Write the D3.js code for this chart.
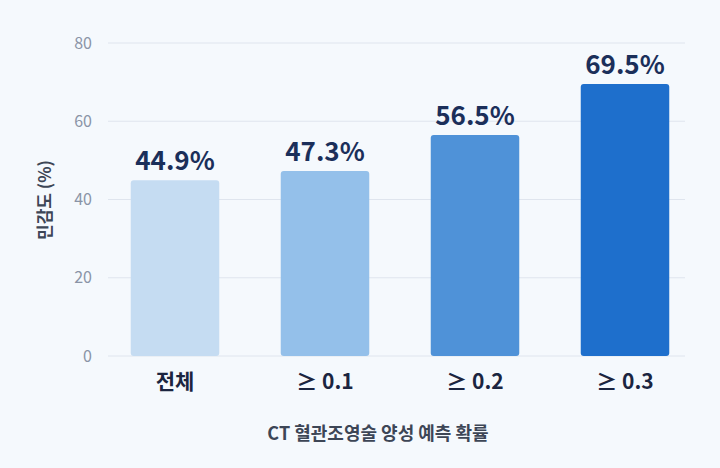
<!DOCTYPE html>
<html><head><meta charset="utf-8">
<script src="https://cdn.jsdelivr.net/npm/d3@7"></script>
<style>body{margin:0;background:#f5f9fd;font-family:"Noto Sans CJK KR","Noto Sans",sans-serif}</style>
</head><body><div class="container"></div>
<script>
const categories = ['전체', '≥ 0.1', '≥ 0.2', '≥ 0.3'];
const values = [44.9, 47.3, 56.5, 69.5];
const colors = ['#c5dcf2', '#94c0ea', '#4f92d8', '#1e6fcc'];
const yTicks = [0, 20, 40, 60, 80];

const width = 720, height = 468;
const svg = d3.select('.container').append('svg')
  .attr('width', width).attr('height', height);
svg.append('rect').attr('width', width).attr('height', height).attr('fill', '#f5f9fd');

const x = d3.scaleBand().domain(categories).range([100, 700])
  .paddingInner(0.41).paddingOuter(0.205);
const y = d3.scaleLinear().domain([0, 80]).range([356, 43]);

svg.append('g').selectAll('line').data(yTicks).join('line')
  .attr('x1', 108).attr('x2', 685)
  .attr('y1', d => y(d)).attr('y2', d => y(d))
  .attr('stroke', '#dfe5ee').attr('stroke-width', 1);

svg.append('g').selectAll('text').data(yTicks).join('text')
  .attr('x', 92).attr('y', d => y(d)).attr('dy', '0.35em')
  .attr('text-anchor', 'end').attr('fill', '#8a94a6').attr('font-size', 16)
  .text(d => d);

svg.append('g').selectAll('rect').data(values).join('rect')
  .attr('x', (d, i) => x(categories[i])).attr('width', x.bandwidth())
  .attr('y', d => y(d)).attr('height', d => y(0) - y(d))
  .attr('rx', 3).attr('fill', (d, i) => colors[i]);

svg.append('g').selectAll('text').data(values).join('text')
  .attr('x', (d, i) => x(categories[i]) + x.bandwidth() / 2)
  .attr('y', d => y(d) - 10)
  .attr('text-anchor', 'middle').attr('fill', '#1b2f5a')
  .attr('font-size', 26).attr('font-weight', 700)
  .text(d => d.toFixed(1) + '%');

svg.append('g').selectAll('text').data(categories).join('text')
  .attr('x', d => x(d) + x.bandwidth() / 2).attr('y', 389)
  .attr('text-anchor', 'middle').attr('fill', '#1b2540')
  .attr('font-size', 21).attr('font-weight', 700)
  .text(d => d);

svg.append('text').attr('x', 378).attr('y', 440)
  .attr('text-anchor', 'middle').attr('fill', '#3d4656')
  .attr('font-size', 18).attr('font-weight', 700)
  .text('CT 혈관조영술 양성 예측 확률');

svg.append('text').attr('transform', 'translate(51,200) rotate(-90)')
  .attr('text-anchor', 'middle').attr('fill', '#3d4656')
  .attr('font-size', 17).attr('font-weight', 700)
  .text('민감도 (%)');
</script></body></html>
